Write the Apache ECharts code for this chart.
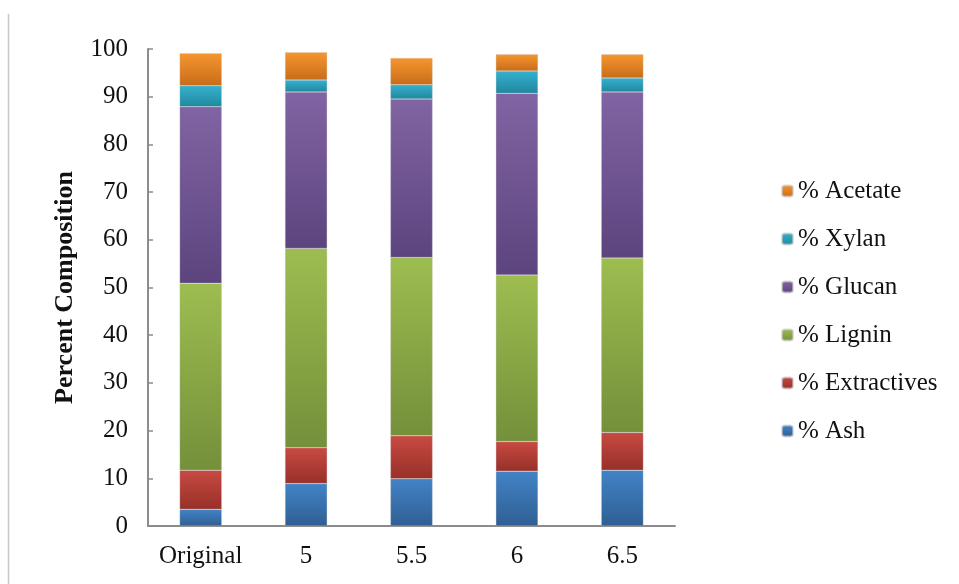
<!DOCTYPE html>
<html>
<head>
<meta charset="utf-8">
<script src="https://cdn.jsdelivr.net/npm/echarts@6/dist/echarts.min.js"></script>
<style>html,body{margin:0;padding:0;background:#fff}#c{width:959px;height:584px}</style>
</head>
<body>
<div id="c"></div>
<script>
const categories = ['Original', '5', '5.5', '6', '6.5'];
const ash = [3.5, 8.9, 9.9, 11.5, 11.7];
const extractives = [8.2, 7.5, 9.0, 6.2, 7.9];
const lignin = [39.2, 41.8, 37.4, 34.9, 36.6];
const glucan = [37.0, 32.8, 33.2, 38.1, 34.8];
const xylan = [4.4, 2.5, 3.0, 4.7, 2.9];
const acetate = [6.8, 5.8, 5.6, 3.5, 5.0];
const yTicks = [0, 10, 20, 30, 40, 50, 60, 70, 80, 90, 100];

const FONT = '"Liberation Serif", "DejaVu Serif", serif';
function grad(top, bottom) {
  return {type: 'linear', x: 0, y: 0, x2: 0, y2: 1,
    colorStops: [{offset: 0, color: top}, {offset: 1, color: bottom}]};
}
const seriesDefs = [
  {name: '% Ash', data: ash, top: '#4283c6', bottom: '#2f5f93', flat: '#3b78b9'},
  {name: '% Extractives', data: extractives, top: '#c84a42', bottom: '#973029', flat: '#be4139'},
  {name: '% Lignin', data: lignin, top: '#9dbd50', bottom: '#74903a', flat: '#8eae48'},
  {name: '% Glucan', data: glucan, top: '#8164a3', bottom: '#5c447e', flat: '#7459a0'},
  {name: '% Xylan', data: xylan, top: '#35b1cf', bottom: '#21879e', flat: '#2ea5c4'},
  {name: '% Acetate', data: acetate, top: '#f6962f', bottom: '#c86c19', flat: '#ee8a2a'}
];

const chart = echarts.init(document.getElementById('c'), null, {renderer: 'canvas'});
chart.setOption({
  animation: false,
  backgroundColor: '#fff',
  grid: {left: 148, right: 284, top: 49, bottom: 58, containLabel: false},
  graphic: [{
    type: 'line',
    shape: {x1: 8.5, y1: 14, x2: 8.5, y2: 584},
    style: {stroke: '#c8c8c8', lineWidth: 1.5},
    silent: true
  }],
  legend: {
    orient: 'vertical',
    left: 776,
    top: 173,
    itemWidth: 11,
    itemHeight: 11,
    itemGap: 22,
    data: ['% Acetate', '% Xylan', '% Glucan', '% Lignin', '% Extractives', '% Ash'],
    textStyle: {fontFamily: FONT, fontSize: 25, color: '#111', lineHeight: 26}
  },
  xAxis: {
    type: 'category',
    data: categories,
    axisLine: {lineStyle: {color: '#8c8c8c', width: 2}},
    axisTick: {inside: true, length: 5, lineStyle: {color: '#8c8c8c', width: 1.5}},
    axisLabel: {fontFamily: FONT, fontSize: 25, color: '#111', margin: 18, interval: 0}
  },
  yAxis: {
    type: 'value',
    min: yTicks[0],
    max: yTicks[yTicks.length - 1],
    interval: 10,
    name: 'Percent Composition',
    nameLocation: 'middle',
    nameGap: 70,
    nameTextStyle: {fontFamily: FONT, fontSize: 26, fontWeight: 'bold', color: '#111'},
    axisLine: {show: true, lineStyle: {color: '#8c8c8c', width: 2}},
    axisTick: {show: true, inside: true, length: 5, lineStyle: {color: '#8c8c8c', width: 1.5}},
    splitLine: {show: false},
    axisLabel: {fontFamily: FONT, fontSize: 25, color: '#111', margin: 20}
  },
  series: seriesDefs.map(d => ({
    name: d.name,
    type: 'bar',
    stack: 'total',
    data: d.data,
    barWidth: '40%',
    itemStyle: {color: grad(d.top, d.bottom), borderColor: 'rgba(200,200,200,0.6)', borderWidth: 0.5},
    emphasis: {disabled: true}
  })),
  color: seriesDefs.map(d => d.flat)
});
</script>
</body>
</html>
